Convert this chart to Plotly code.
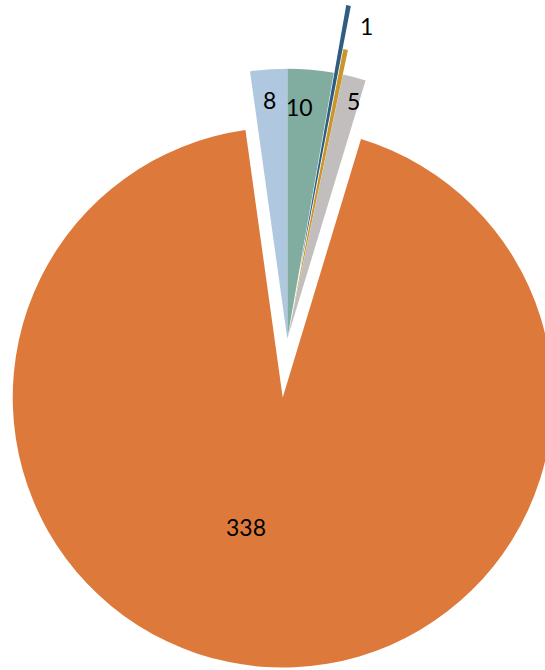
import math
import plotly.graph_objects as go

# ---- data ----
categories = ["A", "B", "C", "D", "E", "F"]
values = [10, 1, 1, 5, 338, 8]
labels_text = ["10", "1", "", "5", "338", "8"]
colors = ["#80ADA0", "#2F5D80", "#C9962B", "#C3BEBE", "#DD7A3B", "#B0C8DF"]
pulls = [0.0, 0.255, 0.093, 0.0, 0.218, 0.0]

# ---- layout geometry ----
W, H = 580, 670          # figure larger than window; right strip is cropped like the reference
R = 270.0                # pie radius in px
C0 = (287.3, 338.8)      # unpulled pie centre in px

total = sum(values)
cum = 0
bisect = []
for v in values:
    bisect.append(math.radians((cum + v / 2) / total * 360))
    cum += v

# group slices by pull amount -> one pie trace per group, shifted by its pull
groups = {}
for i, p in enumerate(pulls):
    groups.setdefault(p, []).append(i)

fig = go.Figure()
for p, idxs in groups.items():
    if p > 0:
        th = bisect[idxs[0]]
        cx = C0[0] + p * R * math.sin(th)
        cy = C0[1] - p * R * math.cos(th)
    else:
        cx, cy = C0
    x0 = max(0.0, (cx - R) / W)
    x1 = min(1.0, (cx + R) / W)
    y0 = max(0.0, 1 - (cy + R) / H)
    y1 = min(1.0, 1 - (cy - R) / H)
    cols = [colors[i] if i in idxs else "rgba(0,0,0,0)" for i in range(len(values))]
    fig.add_trace(go.Pie(
        labels=categories, values=values, sort=False, direction="clockwise",
        rotation=0, textinfo="none", hoverinfo="label+value",
        marker=dict(colors=cols, line=dict(width=0)),
        domain=dict(x=[x0, x1], y=[y0, y1]), showlegend=False,
    ))

# data labels (pixel positions)
label_px = {0: (299.5, 107), 1: (366.5, 26), 3: (353.5, 101), 4: (245.5, 527), 5: (269.5, 100)}
for i, (px, py) in label_px.items():
    fig.add_annotation(x=px / W, y=1 - py / H, xref="paper", yref="paper",
                       xanchor="center", yanchor="middle",
                       text=labels_text[i], showarrow=False,
                       font=dict(family="Lato, Carlito, sans-serif", size=23, color="#000000"))

fig.update_layout(width=W, height=H, margin=dict(l=0, r=0, t=0, b=0),
                  paper_bgcolor="white", plot_bgcolor="white")

post = ("document.body.style.margin='0';"
        "document.body.style.overflow='hidden';"
        "document.documentElement.style.overflow='hidden';")
fig.write_html("out.html", config={"displayModeBar": False}, post_script=post)
